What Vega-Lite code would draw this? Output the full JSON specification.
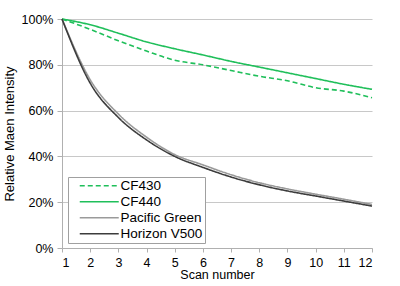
{
  "$schema": "https://vega.github.io/schema/vega-lite/v6.json",
  "autosize": "none",
  "width": 310,
  "height": 229,
  "padding": {"left": 62, "top": 19, "right": 28, "bottom": 38},
  "background": "white",
  "config": {
    "font": "Liberation Sans",
    "view": {"stroke": null}
  },
  "data": {"values": [
    {"scan": 1, "series": "CF430", "v": 1.0},
    {"scan": 2, "series": "CF430", "v": 0.955},
    {"scan": 3, "series": "CF430", "v": 0.905},
    {"scan": 4, "series": "CF430", "v": 0.86},
    {"scan": 5, "series": "CF430", "v": 0.82},
    {"scan": 6, "series": "CF430", "v": 0.80},
    {"scan": 7, "series": "CF430", "v": 0.775},
    {"scan": 8, "series": "CF430", "v": 0.75},
    {"scan": 9, "series": "CF430", "v": 0.73},
    {"scan": 10, "series": "CF430", "v": 0.70},
    {"scan": 11, "series": "CF430", "v": 0.685},
    {"scan": 12, "series": "CF430", "v": 0.656},
    {"scan": 1, "series": "CF440", "v": 1.0},
    {"scan": 2, "series": "CF440", "v": 0.975},
    {"scan": 3, "series": "CF440", "v": 0.938},
    {"scan": 4, "series": "CF440", "v": 0.90},
    {"scan": 5, "series": "CF440", "v": 0.87},
    {"scan": 6, "series": "CF440", "v": 0.843},
    {"scan": 7, "series": "CF440", "v": 0.815},
    {"scan": 8, "series": "CF440", "v": 0.79},
    {"scan": 9, "series": "CF440", "v": 0.765},
    {"scan": 10, "series": "CF440", "v": 0.74},
    {"scan": 11, "series": "CF440", "v": 0.715},
    {"scan": 12, "series": "CF440", "v": 0.693},
    {"scan": 1, "series": "Pacific Green", "v": 1.0},
    {"scan": 2, "series": "Pacific Green", "v": 0.735},
    {"scan": 3, "series": "Pacific Green", "v": 0.585},
    {"scan": 4, "series": "Pacific Green", "v": 0.484},
    {"scan": 5, "series": "Pacific Green", "v": 0.408},
    {"scan": 6, "series": "Pacific Green", "v": 0.363},
    {"scan": 7, "series": "Pacific Green", "v": 0.32},
    {"scan": 8, "series": "Pacific Green", "v": 0.285},
    {"scan": 9, "series": "Pacific Green", "v": 0.258},
    {"scan": 10, "series": "Pacific Green", "v": 0.235},
    {"scan": 11, "series": "Pacific Green", "v": 0.213},
    {"scan": 12, "series": "Pacific Green", "v": 0.19},
    {"scan": 1, "series": "Horizon V500", "v": 1.0},
    {"scan": 2, "series": "Horizon V500", "v": 0.72},
    {"scan": 3, "series": "Horizon V500", "v": 0.57},
    {"scan": 4, "series": "Horizon V500", "v": 0.472},
    {"scan": 5, "series": "Horizon V500", "v": 0.40},
    {"scan": 6, "series": "Horizon V500", "v": 0.352},
    {"scan": 7, "series": "Horizon V500", "v": 0.31},
    {"scan": 8, "series": "Horizon V500", "v": 0.276},
    {"scan": 9, "series": "Horizon V500", "v": 0.249},
    {"scan": 10, "series": "Horizon V500", "v": 0.227},
    {"scan": 11, "series": "Horizon V500", "v": 0.205},
    {"scan": 12, "series": "Horizon V500", "v": 0.183}
  ]},
  "mark": {"type": "line", "interpolate": "monotone"},
  "encoding": {
    "x": {
      "field": "scan", "type": "quantitative",
      "scale": {"domain": [1, 12], "nice": false, "zero": false},
      "axis": {
        "title": "Scan number", "titleFontSize": 12.5, "titleFontWeight": "normal", "titleColor": "#000", "titlePadding": 0,
        "values": [1,2,3,4,5,6,7,8,9,10,11,12], "format": "d",
        "labelFontSize": 12.5, "labelColor": "#000", "labelPadding": 4,
        "grid": false, "domainColor": "#b0b0b0", "tickColor": "#b0b0b0", "tickSize": 4
      }
    },
    "y": {
      "field": "v", "type": "quantitative",
      "scale": {"domain": [0, 1], "nice": false},
      "axis": {
        "title": "Relative Maen Intensity", "titleFontSize": 13, "titleFontWeight": "normal", "titleColor": "#000", "titlePadding": 5,
        "values": [0, 0.2, 0.4, 0.6, 0.8, 1], "format": ".0%",
        "labelFontSize": 12.5, "labelColor": "#000", "labelPadding": 4,
        "grid": true, "gridColor": "#c8c8c8", "gridWidth": 1.2,
        "domainColor": "#b0b0b0", "tickColor": "#b0b0b0", "tickSize": 5
      }
    },
    "color": {
      "field": "series", "type": "nominal",
      "scale": {"domain": ["CF430", "CF440", "Pacific Green", "Horizon V500"], "range": ["#1fbf5a", "#1fbf5a", "#9a9a9a", "#3c3c3c"]},
      "legend": {
        "title": null, "orient": "none", "legendX": 6, "legendY": 158,
        "symbolType": "M0.6,0H8.4", "symbolSize": 100, "symbolStrokeWidth": 2,
        "labelFontSize": 13.5, "labelColor": "#000", "labelOffset": 37,
        "rowPadding": 1, "padding": 2,
        "strokeColor": "#a0a0a0", "fillColor": "white"
      }
    },
    "strokeDash": {
      "field": "series", "type": "nominal",
      "scale": {"domain": ["CF430", "CF440", "Pacific Green", "Horizon V500"], "range": [[5, 3], [1, 0], [1, 0], [1, 0]]},
      "legend": null
    },
    "strokeWidth": {
      "field": "series", "type": "nominal",
      "scale": {"domain": ["CF430", "CF440", "Pacific Green", "Horizon V500"], "range": [1.6, 1.6, 2, 1.5]},
      "legend": null
    },
    "order": {"field": "scan", "type": "quantitative"}
  }
}
